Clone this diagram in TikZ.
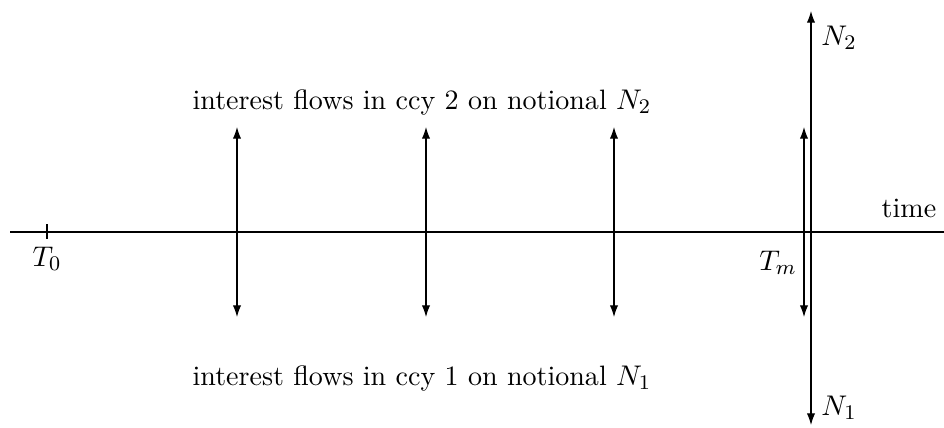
\documentclass[tikz,border=0pt]{standalone}
\usetikzlibrary{arrows.meta}
\begin{document}
\begin{tikzpicture}[x=0.385pt,y=-0.385pt,
  flow/.style={{Latex[length=4.5pt,width=3.2pt]}-{Latex[length=4.5pt,width=3.2pt]}, line width=0.4pt},
  lbl/.style={inner sep=0pt, font=\fontsize{10.8}{13}\selectfont}]
\useasboundingbox (0,0) rectangle (944,427);
% axis
\coordinate (axL) at (10,232);
\coordinate (axR) at (944,232);
\draw[line width=0.4pt] (axL) -- (axR);
% T0 tick
\coordinate (t0a) at (47,224);
\coordinate (t0b) at (47,239);
\draw[line width=0.4pt] (t0a) -- (t0b);
\node[lbl] (T0) at (47,259) {$T_0$};
\node[lbl] (Tm) at (778,263) {$T_m$};
\node[lbl] (time) at (909,208) {time};
% interest flows
\foreach \x/\n in {237/a,426/b,614/c,804/d}{
  \coordinate (\n top) at (\x,127);
  \coordinate (\n bot) at (\x,317);
  \draw[flow] (\n bot) -- (\n top);
}
% notional exchange
\coordinate (ntop) at (811,11);
\coordinate (nbot) at (811,425);
\draw[flow] (nbot) -- (ntop);
\node[lbl] (N2) at (839,38) {$N_2$};
\node[lbl] (N1) at (839,408) {$N_1$};
\node[lbl] (up) at (422,102) {interest flows in ccy 2 on notional $N_2$};
\node[lbl] (dn) at (422,378) {interest flows in ccy 1 on notional $N_1$};
\end{tikzpicture}
\end{document}
